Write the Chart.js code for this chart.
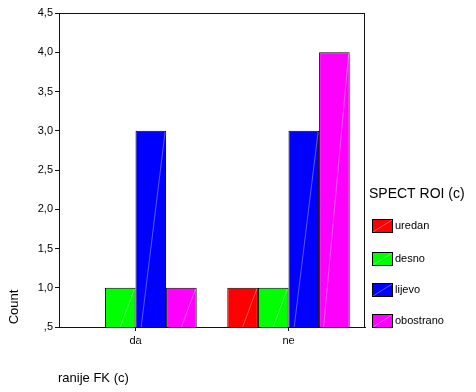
<!DOCTYPE html>
<html>
<head>
<meta charset="utf-8">
<script src="https://cdn.jsdelivr.net/npm/chart.js@4/dist/chart.umd.min.js"></script>
<style>
  html, body { margin: 0; padding: 0; background: #fff; }
  #wrap { width: 476px; height: 392px; position: relative; }
</style>
</head>
<body>
<div id="wrap"><canvas id="myChart"></canvas></div>
<script>
// data
const categories = ['da', 'ne'];
const seriesNames = ['uredan', 'desno', 'lijevo', 'obostrano'];
const uredan = [null, 1];
const desno = [1, 1];
const lijevo = [3, 3];
const obostrano = [1, 4];
const yTicks = [0.5, 1.0, 1.5, 2.0, 2.5, 3.0, 3.5, 4.0, 4.5];

const colors = ['#FF0000', '#00FF00', '#0000FF', '#FF00FF'];
const FONT = 'Arial, "Liberation Sans", sans-serif';

function fmt(v) {
  let s = v.toFixed(1).replace('.', ',');
  if (s.startsWith('0,')) s = s.slice(1);
  return s;
}

// frame, diagonal streaks, legend and titles
const extras = {
  id: 'extras',
  afterDatasetsDraw(chart) {
    const ctx = chart.ctx;
    ctx.save();
    chart.data.datasets.forEach((ds, i) => {
      chart.getDatasetMeta(i).data.forEach((bar, j) => {
        if (ds.data[j] == null) return;
        const p = bar.getProps(['x', 'y', 'base', 'width'], true);
        ctx.strokeStyle = 'rgba(255,255,255,0.35)';
        ctx.lineWidth = 1;
        ctx.beginPath();
        ctx.moveTo(p.x - p.width / 2 + 1, p.base - 1);
        ctx.lineTo(p.x + p.width / 2 - 1, p.y + 1);
        ctx.stroke();
      });
    });
    ctx.restore();
  },
  afterDraw(chart) {
    const ctx = chart.ctx;
    const a = chart.chartArea;
    ctx.save();
    ctx.strokeStyle = '#111';
    ctx.lineWidth = 1;
    ctx.strokeRect(Math.round(a.left) + 0.5, Math.round(a.top) + 0.5,
      Math.round(a.right - a.left) - 1, Math.round(a.bottom - a.top));

    // legend
    ctx.fillStyle = '#000';
    ctx.textBaseline = 'middle';
    ctx.textAlign = 'left';
    ctx.font = '14px ' + FONT;
    ctx.fillText('SPECT ROI (c)', 369, 194);
    ctx.font = '11px ' + FONT;
    const ys = [226, 259, 290, 321];
    seriesNames.forEach((n, i) => {
      const y = ys[i];
      ctx.fillStyle = colors[i];
      ctx.fillRect(372, y - 7, 21, 14);
      ctx.strokeStyle = 'rgba(255,255,255,0.35)';
      ctx.beginPath();
      ctx.moveTo(373, y + 6);
      ctx.lineTo(392, y - 6);
      ctx.stroke();
      ctx.strokeStyle = '#000';
      ctx.strokeRect(372.5, y - 6.5, 20, 13);
      ctx.fillStyle = '#000';
      ctx.fillText(n, 395, y);
    });

    // axis titles
    ctx.font = '13px ' + FONT;
    ctx.fillText('ranije FK (c)', 58, 378);
    ctx.translate(14, 307);
    ctx.rotate(-Math.PI / 2);
    ctx.textAlign = 'center';
    ctx.fillText('Count', 0, 0);
    ctx.restore();
  }
};

const data = {
  labels: categories,
  datasets: [
    { label: seriesNames[0], data: uredan },
    { label: seriesNames[1], data: desno },
    { label: seriesNames[2], data: lijevo },
    { label: seriesNames[3], data: obostrano }
  ].map((d, i) => Object.assign(d, {
    backgroundColor: colors[i],
    borderColor: '#000',
    borderWidth: 1,
    categoryPercentage: 0.8,
    barPercentage: 1.0
  }))
};

const config = {
  type: 'bar',
  data,
  options: {
    responsive: true,
    maintainAspectRatio: false,
    animation: false,
    layout: { padding: { left: 0, top: 13, right: 111, bottom: 34 } },
    plugins: {
      legend: { display: false },
      tooltip: { enabled: false }
    },
    scales: {
      x: {
        grid: { display: true, drawOnChartArea: false, offset: false, tickLength: 4, color: '#111' },
        border: { display: true, color: '#111' },
        ticks: { color: '#000', font: { family: FONT, size: 11 }, padding: 3 },
        afterFit(s) { s.height = 31; }
      },
      y: {
        min: 0.5,
        max: 4.5,
        afterBuildTicks(s) { s.ticks = yTicks.map(v => ({ value: v })); },
        grid: { display: true, drawOnChartArea: false, tickLength: 4, color: '#111' },
        border: { display: true, color: '#111' },
        ticks: { color: '#000', font: { family: FONT, size: 11 }, padding: 2, callback: v => fmt(v) },
        afterFit(s) { s.width = 59; }
      }
    }
  },
  plugins: [extras]
};

const myChart = new Chart(document.getElementById('myChart'), config);
</script>
</body>
</html>
